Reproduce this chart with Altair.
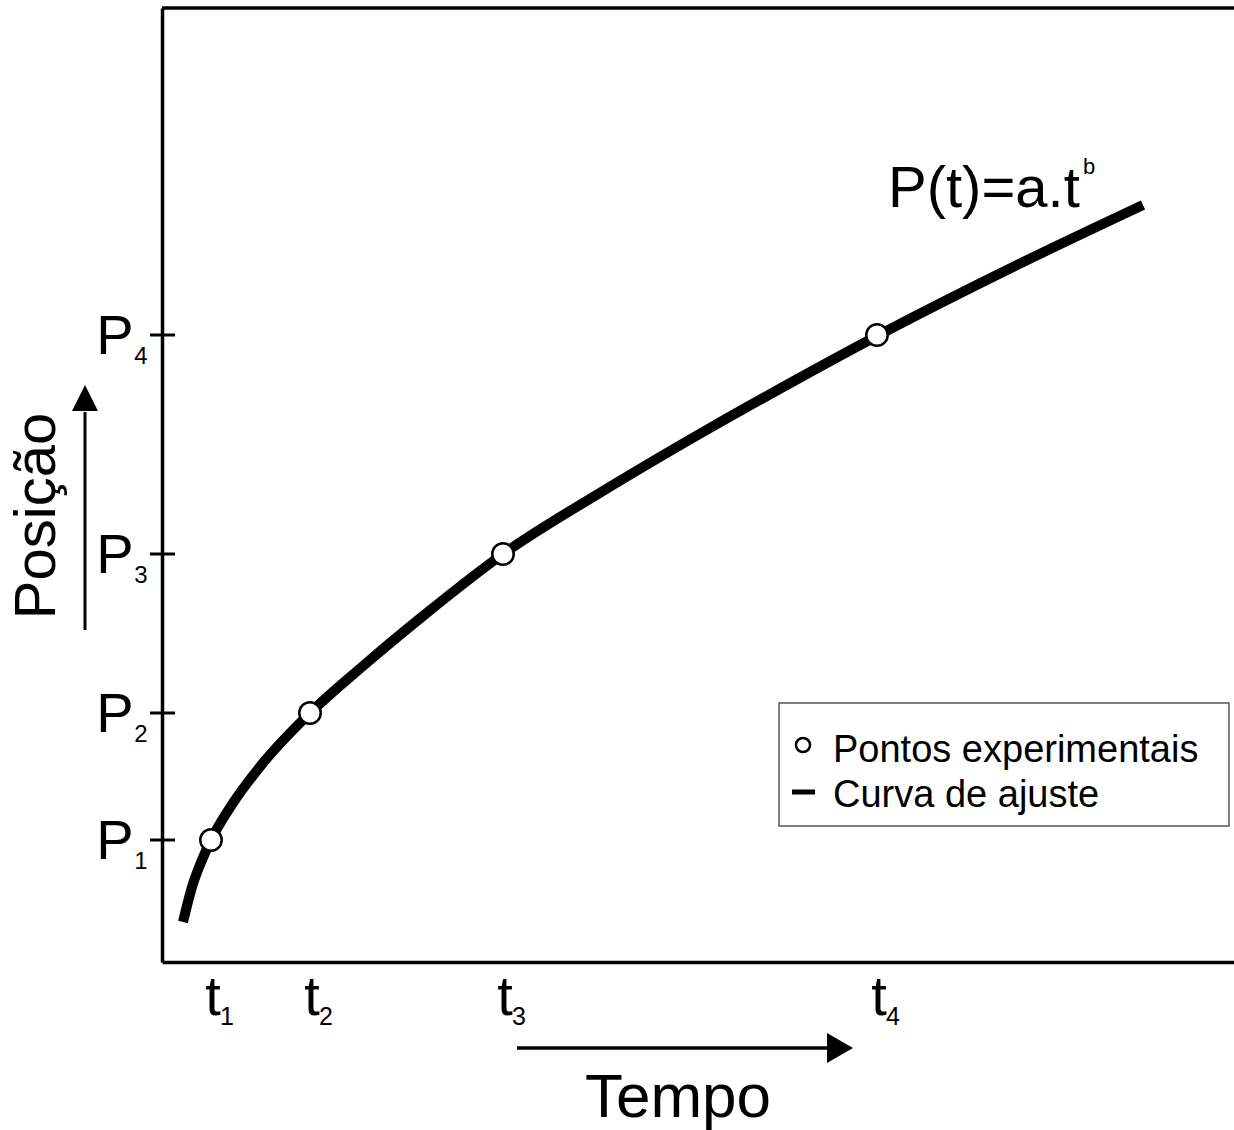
import altair as alt
import pandas as pd

# --- data (arbitrary units) ---
t_sub = ["1", "2", "3", "4"]
t_vals = [48, 147, 340, 714]
p_vals = [123, 250, 409, 628]

curve_t = [20, 29, 39, 48, 70, 100, 147, 200, 260, 340, 440, 540, 640, 714, 850, 980]
curve_p = [41, 76, 103, 123, 160, 200, 250, 297, 347, 409, 472, 531, 587, 627, 696, 758]

legend_labels = ["Pontos experimentais", "Curva de ajuste"]
formula = "P(t)=a.t"
formula_sup = "b"
x_title = "Tempo"
y_title = "Posição"

W, H = 1072, 954
FONT = "Liberation Sans, Arial, sans-serif"

pts = pd.DataFrame({"t": t_vals, "p": p_vals, "sub": t_sub})
curve = pd.DataFrame({"t": curve_t, "p": curve_p})
one = pd.DataFrame({"k": [0]})

xs = alt.Scale(domain=[-1, 1071], nice=False, zero=False)
ys = alt.Scale(domain=[1, 955], nice=False, zero=False)
xax = alt.Axis(labels=False, ticks=False, grid=False, title=None, domain=True,
               domainColor="black", domainWidth=3.5)
yax = alt.Axis(labels=False, ticks=False, grid=False, title=None, domain=True,
               domainColor="black", domainWidth=3.5)

line = alt.Chart(curve).mark_line(color="black", strokeWidth=10, interpolate="monotone",
                                  strokeCap="butt").encode(
    x=alt.X("t:Q", scale=xs, axis=xax),
    y=alt.Y("p:Q", scale=ys, axis=yax),
)

points = alt.Chart(pts).mark_point(shape="circle", filled=True, fill="white", stroke="black",
                                   strokeWidth=2.5, size=460, opacity=1).encode(
    x=alt.X("t:Q", scale=xs), y=alt.Y("p:Q", scale=ys))

yticks = alt.Chart(pts).mark_rule(color="black", strokeWidth=3).encode(
    y=alt.Y("p:Q", scale=ys), x=alt.value(-12), x2=alt.value(13))

p_main = alt.Chart(pts).mark_text(text="P", font=FONT, fontSize=56, align="center",
                                  baseline="alphabetic", dy=19, color="black").encode(
    y=alt.Y("p:Q", scale=ys), x=alt.value(-47))
p_sub = alt.Chart(pts).mark_text(font=FONT, fontSize=24, align="center",
                                 baseline="alphabetic", dy=29, color="black").encode(
    y=alt.Y("p:Q", scale=ys), x=alt.value(-21), text="sub:N")

t_main = alt.Chart(pts).mark_text(text="t", font=FONT, fontSize=56, align="center",
                                  baseline="alphabetic", dx=2, color="black").encode(
    x=alt.X("t:Q", scale=xs), y=alt.value(H + 53))
t_sub_l = alt.Chart(pts).mark_text(font=FONT, fontSize=25, align="center",
                                   baseline="alphabetic", dx=16, color="black").encode(
    x=alt.X("t:Q", scale=xs), y=alt.value(H + 63), text="sub:N")

top_rule = alt.Chart(one).mark_rule(color="black", strokeWidth=3.5).encode(
    x=alt.value(0), x2=alt.value(W), y=alt.value(0))

# legend box
leg_box = alt.Chart(one).mark_rect(fill="white", stroke="#555555", strokeWidth=1.5).encode(
    x=alt.value(617), x2=alt.value(1067), y=alt.value(695), y2=alt.value(818))
leg_pt = alt.Chart(one).mark_point(shape="circle", filled=True, fill="white", stroke="black",
                                   strokeWidth=2.5, size=200, opacity=1).encode(
    x=alt.value(641), y=alt.value(737))
leg_ln = alt.Chart(one).mark_rule(color="black", strokeWidth=5).encode(
    x=alt.value(630), x2=alt.value(653), y=alt.value(784))
leg_t1 = alt.Chart(one).mark_text(text=legend_labels[0], font=FONT, fontSize=38, align="left",
                                  baseline="alphabetic", color="black").encode(
    x=alt.value(671), y=alt.value(754))
leg_t2 = alt.Chart(one).mark_text(text=legend_labels[1], font=FONT, fontSize=38, align="left",
                                  baseline="alphabetic", color="black").encode(
    x=alt.value(671), y=alt.value(799))

# formula
f_main = alt.Chart(one).mark_text(text=formula, font=FONT, fontSize=58, align="left",
                                  baseline="alphabetic", color="black").encode(
    x=alt.value(726), y=alt.value(199))
f_sup = alt.Chart(one).mark_text(text=formula_sup, font=FONT, fontSize=22, align="left",
                                 baseline="alphabetic", color="black").encode(
    x=alt.value(921), y=alt.value(166))

# axis arrows and titles
x_arrow = alt.Chart(one).mark_rule(color="black", strokeWidth=3.5).encode(
    x=alt.value(355), x2=alt.value(668), y=alt.value(1040))
x_head = alt.Chart(one).mark_point(shape="M-1,-1.15L1,0L-1,1.15Z", filled=True, color="black",
                                   size=676, opacity=1).encode(
    x=alt.value(678), y=alt.value(1040))
y_arrow = alt.Chart(one).mark_rule(color="black", strokeWidth=3).encode(
    x=alt.value(-77), y=alt.value(404), y2=alt.value(622))
y_head = alt.Chart(one).mark_point(shape="M0,-1L1,1L-1,1Z", filled=True, color="black",
                                   size=676, opacity=1).encode(
    x=alt.value(-77), y=alt.value(390))

x_lab = alt.Chart(one).mark_text(text=x_title, font=FONT, fontSize=62, align="center",
                                 baseline="alphabetic", color="black").encode(
    x=alt.value(516), y=alt.value(1109))
y_lab = alt.Chart(one).mark_text(text=y_title, font=FONT, fontSize=58, align="center",
                                 baseline="alphabetic", angle=270, color="black").encode(
    x=alt.value(-107), y=alt.value(508))

chart = alt.layer(
    line, points, yticks, p_main, p_sub, t_main, t_sub_l, top_rule,
    leg_box, leg_pt, leg_ln, leg_t1, leg_t2, f_main, f_sup,
    x_arrow, x_head, y_arrow, y_head, x_lab, y_lab,
).properties(
    width=W, height=H,
    autosize=alt.AutoSizeParams(type="none"),
    padding={"left": 162, "top": 8, "right": 0, "bottom": 168},
    background="white",
).configure_view(stroke=None)

chart.save("out.html", embed_options={"renderer": "svg", "actions": False})
